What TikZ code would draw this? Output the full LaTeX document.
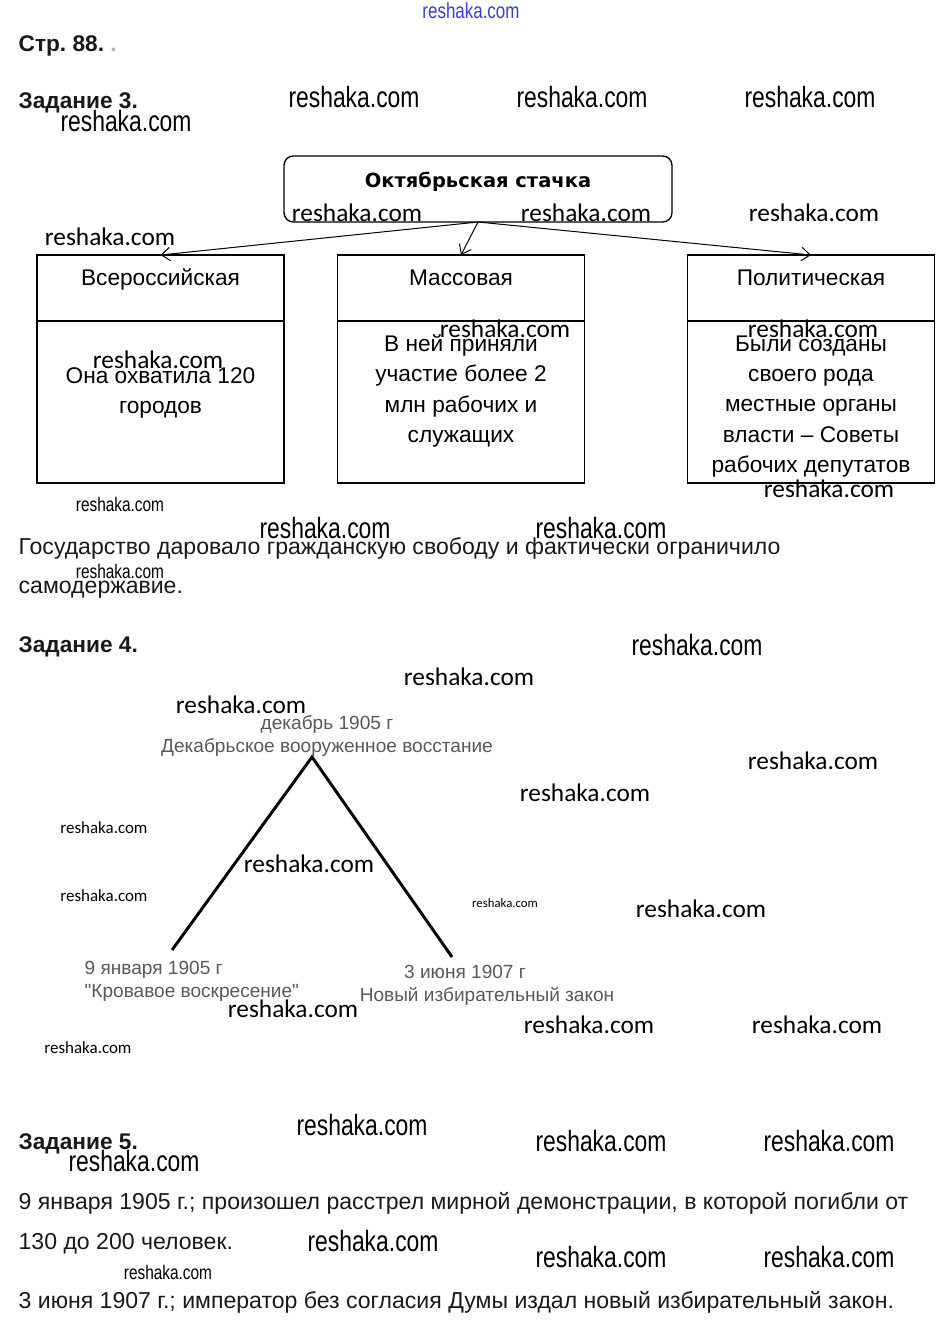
\documentclass[tikz,border=0pt]{standalone}
\usepackage{fontspec}
\setmainfont{Liberation Sans}
\newfontfamily\narrowsans[FakeStretch=0.78]{Liberation Sans}
\newfontfamily\carlito{Carlito}
\newfontfamily\headsans{DejaVu Sans}
\usetikzlibrary{positioning,arrows.meta}
\definecolor{markblue}{RGB}{60,60,210}
\frenchspacing

\tikzset{
  pagetext/.style={anchor=base west, inner sep=0pt, text=black!90, font=\fontsize{17.3}{20}\selectfont},
  taskhead/.style={pagetext, font=\fontsize{17}{20}\selectfont\bfseries},
  strikebox/.style={draw, rounded corners=7pt, outer sep=0pt, minimum width=291pt, minimum height=49.5pt,
    text height=11pt, text depth=14pt, font=\headsans\fontsize{14.6}{17}\selectfont\bfseries},
  headbox/.style={draw, outer sep=0pt, minimum width=185.25pt, minimum height=49.5pt,
    text height=12pt, text depth=16.5pt, font=\fontsize{17}{20}\selectfont},
  bodybox/.style={draw, outer sep=0pt, minimum width=185.25pt, minimum height=121.5pt},
  bodytext/.style={anchor=north, inner sep=0pt, align=center, font=\fontsize{17}{22.7}\selectfont},
  datelabel/.style={inner sep=0pt, text=black!65, font=\fontsize{14.3}{17.25}\selectfont},
  markN/.style={inner sep=0pt, font=\narrowsans\fontsize{22}{24}\selectfont},
  markNs/.style={inner sep=0pt, font=\narrowsans\fontsize{14.8}{16}\selectfont},
  markC/.style={inner sep=0pt, font=\carlito\fontsize{19}{21}\selectfont},
  markCs/.style={inner sep=0pt, font=\carlito\fontsize{12.7}{14}\selectfont},
  markCt/.style={inner sep=0pt, font=\carlito\fontsize{9.6}{11}\selectfont},
}

\begin{document}
\begin{tikzpicture}[x=0.75pt, y=-0.75pt, line width=1pt, >={Straight Barb[length=6.5pt,width=10pt]}]
\fill[white] (0,0) rectangle (940,1328);
\useasboundingbox (0,0) rectangle (940,1328);

% page heading
\node[inner sep=0pt, text=markblue, font=\narrowsans\fontsize{16.3}{18}\selectfont] (site) at (471,11) {reshaka.com};
\node[taskhead] (page) at (18,51) {Стр. 88. \textcolor{black!30}{.}};

% task 3
\node[taskhead] (task3) at (18,108) {Задание 3.};
\node[strikebox] (strike) at (478,189) {Октябрьская стачка};

\node[headbox] (allru) at (160.5,288) {Всероссийская};
\node[bodybox, below=0pt of allru] (allruB) {};
\node[headbox] (mass) at (461,288) {Массовая};
\node[bodybox, below=0pt of mass] (massB) {};
\node[headbox] (polit) at (811,288) {Политическая};
\node[bodybox, below=0pt of polit] (politB) {};

\node[bodytext] (allruT) at (160.5,367) {Она охватила 120\\городов};
\node[bodytext] (massT) at (461,334) {В ней приняли\\участие более 2\\млн рабочих и\\служащих};
\node[bodytext] (politT) at (811,335) {Были созданы\\своего рода\\местные органы\\власти – Советы\\рабочих депутатов};

\draw[->, line width=0.75pt] (strike.south) -- (allru.north);
\draw[->, line width=0.75pt] (strike.south) -- (mass.north);
\draw[->, line width=0.75pt] (strike.south) -- (polit.north);

\node[pagetext] (answer3a) at (18,554) {Государство даровало гражданскую свободу и фактически ограничило};
\node[pagetext] (answer3b) at (18,593) {самодержавие.};

% task 4
\node[taskhead] (task4) at (18,652) {Задание 4.};
\coordinate (apex) at (312,757);
\coordinate (jan) at (172,950);
\coordinate (jun) at (452,957);
\draw[line width=2.2pt] (jan) -- (apex) -- (jun);

\node[datelabel, align=center, anchor=south] (dec) at (327,757) {декабрь 1905 г\\Декабрьское вооруженное восстание};
\node[datelabel, align=left, anchor=north west] (janL) at (84,961) {9 января 1905 г\\\textquotedbl Кровавое воскресение\textquotedbl};
\node[datelabel, anchor=base] (junDate) at (465,978) {3 июня 1907 г};
\node[datelabel, anchor=base] (junLaw) at (487,1001) {Новый избирательный закон};

% task 5
\node[taskhead] (task5) at (18,1149) {Задание 5.};
\node[pagetext] (answer5a) at (18,1209) {9 января 1905 г.; произошел расстрел мирной демонстрации, в которой погибли от};
\node[pagetext] (answer5b) at (18,1249) {130 до 200 человек.};
\node[pagetext] (answer5c) at (18,1308) {3 июня 1907 г.; император без согласия Думы издал новый избирательный закон.};

% watermarks
\foreach \x/\y [count=\i] in {354/97, 582/97, 810/97, 126/121, 325/528, 601/528, 697/645,
    362/1125, 601/1141, 829/1141, 134/1161, 373/1241, 601/1257, 829/1257}
  \node[markN] (markN\i) at (\x,\y) {reshaka.com};
\foreach \x/\y [count=\i] in {357/213, 586/213, 814/213, 110/237, 158/360, 505/329, 813/329, 829/489,
    469/677, 241/705, 813/761, 585/793, 309/864, 701/909, 293/1009, 589/1025, 817/1025}
  \node[markC] (markC\i) at (\x,\y) {reshaka.com};
\foreach \x/\y [count=\i] in {120/504, 120/571, 168/1272}
  \node[markNs] (markNs\i) at (\x,\y) {reshaka.com};
\foreach \x/\y [count=\i] in {104/828, 104/896, 88/1048}
  \node[markCs] (markCs\i) at (\x,\y) {reshaka.com};
\node[markCt] (markCt) at (505,903) {reshaka.com};
\end{tikzpicture}
\end{document}
